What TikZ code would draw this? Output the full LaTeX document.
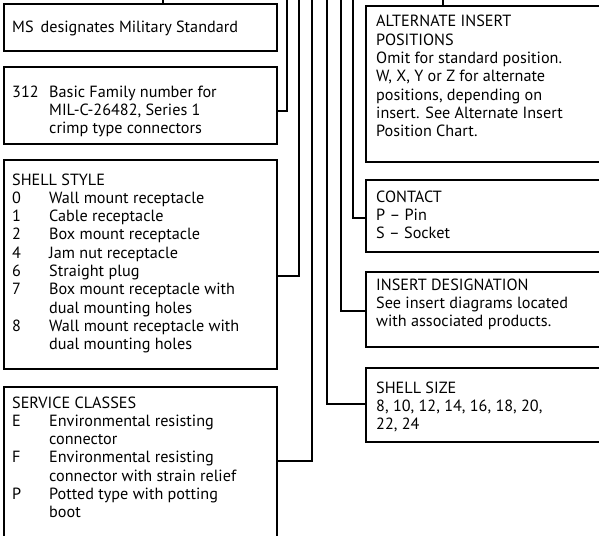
\documentclass[tikz,border=0pt]{standalone}
\usepackage{fontspec}
\setmainfont{PT Sans}
\begin{document}
\begin{tikzpicture}[x=1pt,y=-1pt,
  box/.style={draw,line width=1.6pt,inner sep=0pt,anchor=north west},
  txt/.style={inner sep=0pt,anchor=base west,font=\fontsize{16.2}{18.3}\selectfont},
  conn/.style={line width=1.6pt}]
\useasboundingbox (0,0) rectangle (599,535);
\clip (0,0) rectangle (599,535);
% left boxes
\node[box,minimum width=273pt,minimum height=47pt] (b1) at (3,3) {};
\node[box,minimum width=273pt,minimum height=77pt] (b2) at (3,66) {};
\node[box,minimum width=273pt,minimum height=209pt] (b3) at (3,159) {};
\node[box,minimum width=273pt,minimum height=180pt] (b4) at (3,386) {};
% right boxes
\node[box,minimum width=260pt,minimum height=156pt] (b5) at (365,5) {};
\node[box,minimum width=260pt,minimum height=72pt] (b6) at (365,179) {};
\node[box,minimum width=260pt,minimum height=75pt] (b7) at (365,271) {};
\node[box,minimum width=260pt,minimum height=74pt] (b8) at (365,367) {};
% texts
\node[txt] (x1) at (12,33) {MS\hspace{7pt}designates Military Standard};
\node[txt] (x2) at (12,97) {\begin{tabular}[t]{@{}p{37pt}@{}l@{}}312 & Basic Family number for\\ & MIL-C-26482, Series 1\\ & crimp type connectors\end{tabular}};
\node[txt] (x3) at (12,185) {\begin{tabular}[t]{@{}p{37pt}@{}l@{}}\multicolumn{2}{@{}l@{}}{SHELL STYLE}\\
0 & Wall mount receptacle\\
1 & Cable receptacle\\
2 & Box mount receptacle\\
4 & Jam nut receptacle\\
6 & Straight plug\\
7 & Box mount receptacle with\\
 & dual mounting holes\\
8 & Wall mount receptacle with\\
 & dual mounting holes\end{tabular}};
\node[txt] (x4) at (12,408) {\begin{tabular}[t]{@{}p{37pt}@{}l@{}}\multicolumn{2}{@{}l@{}}{SERVICE CLASSES}\\
E & Environmental resisting\\
 & connector\\
F & Environmental resisting\\
 & connector with strain relief\\
P & Potted type with potting\\
 & boot\end{tabular}};
\node[txt] (x5) at (376,27) {\begin{tabular}[t]{@{}l@{}}ALTERNATE INSERT\\ POSITIONS\\ Omit for standard position.\\ W, X, Y or Z for alternate\\ positions, depending on\\ insert. See Alternate Insert\\ Position Chart.\end{tabular}};
\node[txt] (x6) at (376,202) {\begin{tabular}[t]{@{}l@{}}CONTACT\\ P – Pin\\ S – Socket\end{tabular}};
\node[txt] (x7) at (376,290) {\begin{tabular}[t]{@{}l@{}}INSERT DESIGNATION\\ See insert diagrams located\\ with associated products.\end{tabular}};
\node[txt] (x8) at (376,393) {\begin{tabular}[t]{@{}l@{}}SHELL SIZE\\ 8, 10, 12, 14, 16, 18, 20,\\ 22, 24\end{tabular}};
% connectors
\coordinate (t1) at (163,-3);
\coordinate (t2) at (287,-3); \coordinate (j2) at (287,111);
\coordinate (t3) at (299,-3); \coordinate (j3) at (299,276);
\coordinate (t4) at (312,-3); \coordinate (j4) at (312,461);
\coordinate (t8) at (327,-3); \coordinate (j8) at (327,404);
\coordinate (t7) at (341,-3); \coordinate (j7) at (341,311);
\coordinate (t6) at (353,-3); \coordinate (j6) at (353,218);
\coordinate (t5) at (443,-3);
\draw[conn] (t1) -- (t1 |- b1.north);
\draw[conn] (t2) -- (j2) -- (j2 -| b2.east);
\draw[conn] (t3) -- (j3) -- (j3 -| b3.east);
\draw[conn] (t4) -- (j4) -- (j4 -| b4.east);
\draw[conn] (t8) -- (j8) -- (j8 -| b8.west);
\draw[conn] (t7) -- (j7) -- (j7 -| b7.west);
\draw[conn] (t6) -- (j6) -- (j6 -| b6.west);
\draw[conn] (t5) -- (t5 |- b5.north);
\end{tikzpicture}
\end{document}
